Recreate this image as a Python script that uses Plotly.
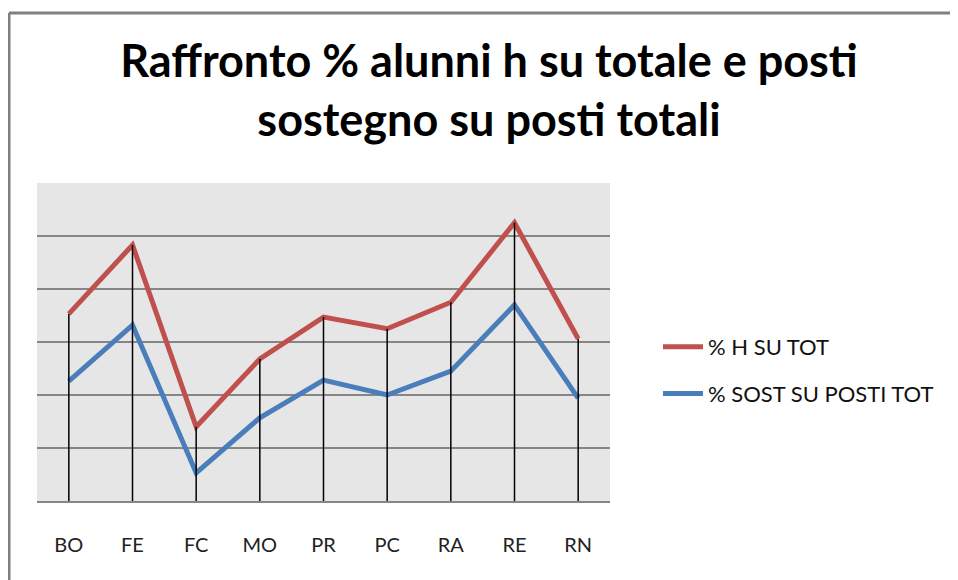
import plotly.graph_objects as go

categories = ["BO", "FE", "FC", "MO", "PR", "PC", "RA", "RE", "RN"]
h_su_tot = [3.53, 4.83, 1.40, 2.68, 3.47, 3.25, 3.75, 5.25, 3.06]
sost_su_posti = [2.26, 3.32, 0.53, 1.57, 2.28, 2.00, 2.45, 3.70, 1.94]
series_names = ["% H SU TOT", "% SOST SU POSTI TOT"]
title_text = "Raffronto % alunni h su totale e posti<br>sostegno su posti totali"

RED = "#C0504D"
BLUE = "#4A7EBB"

fig = go.Figure()

fig.add_trace(go.Scatter(x=categories, y=h_su_tot, mode="lines", name=series_names[0],
                         line=dict(color=RED, width=5), legendgroup="a"))
fig.add_trace(go.Scatter(x=categories, y=sost_su_posti, mode="lines", name=series_names[1],
                         line=dict(color=BLUE, width=5), legendgroup="b"))

# drop lines from the upper series down to the axis
drop_x, drop_y = [], []
for c, v in zip(categories, h_su_tot):
    drop_x += [c, c, None]
    drop_y += [v, 0, None]
fig.add_trace(go.Scatter(x=drop_x, y=drop_y, mode="lines", showlegend=False,
                         line=dict(color="black", width=1.5), hoverinfo="skip"))

OFF = 8  # page body margin
W, H = 958 - OFF, 580 - OFF
L, R, T, B = 37 - OFF, 610 - OFF, 183 - OFF, 501 - OFF
pw, ph = R - L, B - T

def px_x(x):
    return (x - OFF - L) / pw

def px_y(y):
    return (B - (y - OFF)) / ph

border = dict(color="#808080", width=3)

fig.update_layout(
    width=W, height=H,
    margin=dict(l=L, r=W - R, t=T, b=H - B, pad=0),
    paper_bgcolor="white",
    plot_bgcolor="#E6E6E6",
    title=dict(text=title_text, x=(489 - OFF) / W, xanchor="center", xref="container",
               y=1 - (77 - OFF) / H, yanchor="top", yref="container",
               font=dict(family="Lato", size=45, color="black", weight="bold")),
    showlegend=True,
    legend=dict(x=px_x(658), y=px_y(370.5), xanchor="left", yanchor="middle",
                font=dict(family="Lato", size=22, color="#111111"),
                tracegroupgap=15, bgcolor="rgba(0,0,0,0)", itemwidth=40),
    xaxis=dict(type="category", range=[-0.5, 8.5], showgrid=False,
               showline=True, linecolor="#868686", linewidth=2,
               ticks="", ticklabelstandoff=25,
               tickfont=dict(family="Lato", size=20, color="#222222"),
               zeroline=False, fixedrange=True),
    yaxis=dict(range=[0, 6], dtick=1, showgrid=True, gridcolor="#868686", gridwidth=2,
               showticklabels=False, zeroline=False, showline=False, ticks="",
               fixedrange=True),
    shapes=[
        dict(type="line", xref="paper", yref="paper",
             x0=px_x(9), x1=px_x(1000), y0=px_y(13), y1=px_y(13), line=border, layer="below"),
        dict(type="line", xref="paper", yref="paper",
             x0=px_x(9), x1=px_x(9), y0=px_y(13), y1=px_y(640), line=border, layer="below"),
    ],
)

fig.write_html("out.html", config={"displayModeBar": False})
